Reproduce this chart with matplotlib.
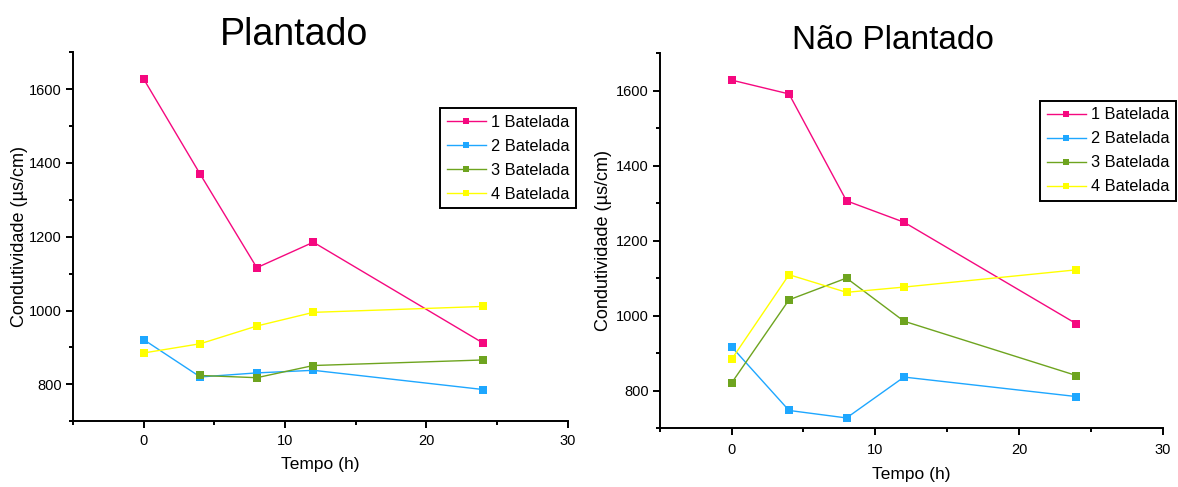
"""Condutividade ao longo do tempo: Plantado vs Não Plantado."""

import matplotlib

matplotlib.use("Agg")

import matplotlib.pyplot as plt
import numpy as np
from matplotlib.ticker import MultipleLocator

plt.rcParams["font.family"] = ["Liberation Sans", "DejaVu Sans"]

# --- Data ---
TEMPO = [0, 4, 8, 12, 24]
SERIES_LABELS = ["1 Batelada", "2 Batelada", "3 Batelada", "4 Batelada"]

PLANTADO_1 = [1627, 1369, 1116, 1185, 912]
PLANTADO_2 = [921, 820, 831, 838, 786]
PLANTADO_3 = [np.nan, 824, 818, 851, 866]
PLANTADO_4 = [885, 910, 958, 995, 1011]

NAO_PLANTADO_1 = [1628, 1591, 1306, 1249, 978]
NAO_PLANTADO_2 = [917, 747, 727, 836, 784]
NAO_PLANTADO_3 = [820, 1042, 1100, 985, 840]
NAO_PLANTADO_4 = [883, 1109, 1062, 1076, 1122]

# --- Style ---
COLORS = ["#F5087F", "#1EA7FF", "#6EA41F", "#FFFF00"]
SPINE_W = 1.4


def _draw_panel(ax, series, legend_anchor, tick_pad, ylabel_pad):
    for values, color, label in zip(series, COLORS, SERIES_LABELS):
        ax.plot(
            TEMPO,
            values,
            color=color,
            lw=1.0,
            marker="s",
            markersize=6.3,
            markeredgewidth=0,
            label=label,
        )
    ax.set_xlim(-5, 30)
    ax.set_ylim(700, 1700)
    ax.xaxis.set_major_locator(MultipleLocator(10))
    ax.xaxis.set_minor_locator(MultipleLocator(5))
    ax.yaxis.set_major_locator(MultipleLocator(200))
    ax.yaxis.set_minor_locator(MultipleLocator(100))
    for side in ("top", "right"):
        ax.spines[side].set_visible(False)
    for side in ("left", "bottom"):
        ax.spines[side].set_linewidth(SPINE_W)
    ax.tick_params(which="major", direction="out", length=5, width=SPINE_W,
                   labelsize=10.5, pad=3)
    ax.tick_params(axis="x", which="major", pad=tick_pad)
    ax.tick_params(which="minor", direction="out", length=3, width=SPINE_W)
    ax.set_xlabel("Tempo (h)", fontsize=12.5, labelpad=7)
    ax.set_ylabel("Condutividade (µs/cm)", fontsize=13, labelpad=ylabel_pad)
    leg = ax.legend(
        loc="upper left",
        bbox_to_anchor=legend_anchor,
        bbox_transform=ax.figure.transFigure,
        fontsize=11.8,
        frameon=True,
        fancybox=False,
        framealpha=1,
        edgecolor="black",
        handlelength=2.4,
        handletextpad=0.3,
        labelspacing=0.55,
        borderpad=0.4,
        borderaxespad=0,
        markerscale=0.7,
    )
    leg.get_frame().set_linewidth(1.4)


fig = plt.figure(figsize=(11.78, 4.87), dpi=100)
ax1 = fig.add_axes([0.062, 0.135, 0.420, 0.758])
ax2 = fig.add_axes([0.560, 0.121, 0.427, 0.770])

_draw_panel(ax1, [PLANTADO_1, PLANTADO_2, PLANTADO_3, PLANTADO_4],
            (0.3735, 0.778), 4, 1)
_draw_panel(ax2, [NAO_PLANTADO_1, NAO_PLANTADO_2, NAO_PLANTADO_3, NAO_PLANTADO_4],
            (0.883, 0.793), 6, 3)

fig.text(0.2495, 0.928, "Plantado", fontsize=27, ha="center", va="center")
fig.text(0.758, 0.916, "Não Plantado", fontsize=24, ha="center", va="center")

fig.savefig("out.png", dpi=100)
plt.close(fig)
